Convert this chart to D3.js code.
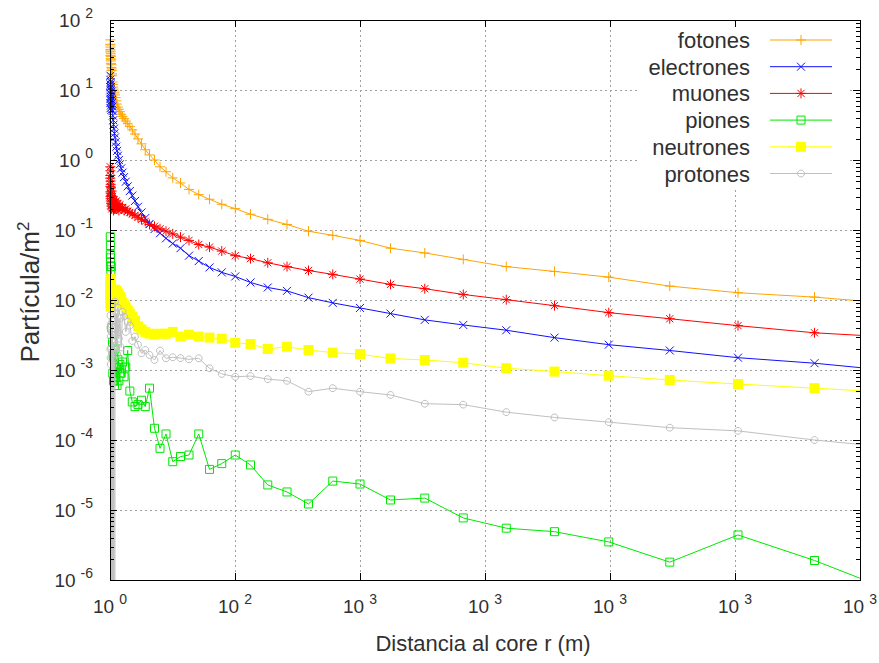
<!DOCTYPE html>
<html>
<head>
<meta charset="utf-8">
<script src="https://cdn.jsdelivr.net/npm/d3@7/dist/d3.min.js"></script>
<style>
  body { margin: 0; background: #fff; }
  svg { display: block; }
  text { font-family: "Liberation Sans", Arial, sans-serif; fill: #303030; }
</style>
</head>
<body>
<svg id="chart" width="879" height="663"></svg>
<script>
// Bin centres of the radial distance (m), 20 logarithmic bins per decade
const radius = [1, 1.12, 1.26, 1.41, 1.58, 1.78, 2, 2.24, 2.51, 2.82,
  3.16, 3.55, 3.98, 4.47, 5.01, 5.62, 6.31, 7.08, 7.94, 8.91,
  10, 11.2, 12.6, 14.1, 15.8, 17.8, 20, 22.4, 25.1, 28.2,
  31.6, 35.5, 39.8, 44.7, 50.1, 56.2, 63.1, 70.8, 79.4, 89.1,
  100, 112, 126, 141, 158, 178, 200, 224, 251, 282,
  316, 355, 398, 447, 501, 562, 631, 708, 794, 891,
  1000, 1122, 1259, 1413, 1585, 1778, 1995, 2239, 2512, 2818, 3162];

// Particle densities per m² (0 = empty bin)
const fotones = [45, 52, 38, 44, 35, 41, 31, 36, 28, 33,
  26, 30, 24, 27, 21, 23, 19, 20, 17, 16,
  13, 12, 11, 10.3, 9.7, 9.1, 8.5, 7.8, 7.0, 6.3,
  5.7, 5.3, 4.9, 4.5, 4.2, 3.9, 3.6, 3.3, 3.0, 2.7,
  2.35, 2.0, 1.7, 1.4, 1.18, 1.0, 0.8, 0.68, 0.555, 0.47,
  0.38, 0.32, 0.275, 0.233, 0.202, 0.168, 0.142, 0.12, 0.096, 0.084,
  0.071, 0.055, 0.047, 0.038, 0.030, 0.0256, 0.0212, 0.0158, 0.0127, 0.011, 0.0087];

const electrones = [9, 14, 6.5, 11, 16, 7.5, 12, 5.5, 10, 13,
  8, 6, 11, 7, 9.5, 5.2, 8.5, 6.5, 7.2, 5.8,
  5.0, 4.3, 3.7, 3.2, 2.8, 2.4, 2.1, 1.8, 1.55, 1.35,
  1.15, 1.0, 0.87, 0.76, 0.66, 0.57, 0.49, 0.42, 0.36, 0.31,
  0.26, 0.215, 0.178, 0.148, 0.122, 0.103, 0.09, 0.076, 0.064, 0.055,
  0.043, 0.036, 0.0292, 0.0248, 0.0217, 0.0178, 0.0151, 0.0135, 0.0108, 0.0091,
  0.0077, 0.0064, 0.0052, 0.0044, 0.0037, 0.0029, 0.0023, 0.0019, 0.0015, 0.00125, 0.00095];

const muones = [0.55, 0.8, 0.35, 0.6, 0.42, 0.7, 0.3, 0.5, 0.28, 0.45,
  0.33, 0.26, 0.4, 0.24, 0.31, 0.22, 0.36, 0.2, 0.28, 0.23,
  0.3, 0.21, 0.26, 0.19, 0.27, 0.2, 0.25, 0.21, 0.26, 0.2,
  0.24, 0.19, 0.23, 0.2, 0.21, 0.19, 0.2, 0.185, 0.178, 0.17,
  0.162, 0.152, 0.142, 0.133, 0.12, 0.113, 0.104, 0.096, 0.088, 0.079,
  0.071, 0.062, 0.057, 0.050, 0.043, 0.039, 0.034, 0.030, 0.0264, 0.0232,
  0.0199, 0.0167, 0.0145, 0.012, 0.0101, 0.0083, 0.0066, 0.0054, 0.0043, 0.0034, 0.0029];

const piones = [0.08, 0, 0.045, 0, 0.06, 0.035, 0, 0.04, 0, 0.03,
  0, 0.025, 0, 0, 0.03, 0, 0, 0.004, 0, 0,
  0.0025, 0.0009, 0.0016, 0.0007, 0.0015, 0.0006, 0.002, 0.0008, 0.0011, 0.0006,
  0.0014, 0.0007, 0.0012, 0.0009, 0.0013, 0.0008, 0.0011, 0.0019, 0.0005, 0.00035,
  0.0003, 0.00032, 0.00037, 0.0003, 0.00055, 0.000147, 0.000076, 0.000122, 0.000049, 0.000058,
  0.000061, 0.000122, 0.000038, 0.000046, 0.000061, 0.000044, 0.0000228, 0.0000181, 0.0000122, 0.0000259,
  0.0000235, 0.0000139, 0.0000148, 0.0000077, 0.0000055, 0.0000049, 0.0000035, 0.0000018, 0.0000044, 0.0000019, 0.00000063];

const neutrones = [0.012, 0, 0.018, 0.009, 0, 0.015, 0.011, 0, 0.02, 0.008,
  0.013, 0, 0.016, 0.01, 0.012, 0, 0.014, 0.011, 0.013, 0.0095,
  0.012, 0.0105, 0.011, 0.0125, 0.0095, 0.0115, 0.014, 0.012, 0.0135, 0.0118,
  0.0125, 0.0118, 0.011, 0.0101, 0.0092, 0.0085, 0.0078, 0.0071, 0.0064, 0.0057,
  0.0051, 0.0042, 0.0038, 0.0035, 0.0033, 0.0032, 0.0033, 0.0033, 0.0035, 0.003,
  0.0032, 0.003, 0.0029, 0.0028, 0.00245, 0.00235, 0.002, 0.00215, 0.00193, 0.00177,
  0.00169, 0.00146, 0.00139, 0.00127, 0.00106, 0.00095, 0.00083, 0.00072, 0.00063, 0.00055, 0.00047];

const protones = [0.004, 0, 0.002, 0, 0.006, 0, 0.0015, 0, 0.003, 0,
  0.0012, 0, 0.0045, 0, 0.002, 0, 0.0035, 0, 0.0018, 0,
  0.005, 0, 0.0025, 0, 0.0014, 0, 0.0095, 0.0022, 0.0065, 0.0017,
  0.0078, 0.0028, 0.0055, 0.0021, 0.0068, 0.0058, 0.0035, 0.0049, 0.0043, 0.0026,
  0.003, 0.0023, 0.00173, 0.00193, 0.00164, 0.00139, 0.00189, 0.00147, 0.00152, 0.00148,
  0.00142, 0.00147, 0.00106, 0.00088, 0.0008, 0.00082, 0.00074, 0.0007, 0.00049, 0.00055,
  0.00049, 0.00044, 0.00033, 0.00032, 0.00025, 0.00021, 0.00018, 0.00015, 0.000135, 0.0001, 0.000076];

const seriesNames = ["fotones", "electrones", "muones", "piones", "neutrones", "protones"];
const seriesValues = [fotones, electrones, muones, piones, neutrones, protones];
const seriesColors = ["#ffa500", "#1010ff", "#ff0000", "#00e800", "#ffff00", "#c0c0c0"];
const seriesMarkers = ["plus", "cross", "star", "square", "filledSquare", "circle"];

const xTickValues = [0, 500, 1000, 1500, 2000, 2500, 3000];
const xTickExponents = ["0", "2", "3", "3", "3", "3", "3"];
const yTickValues = [1e2, 1e1, 1e0, 1e-1, 1e-2, 1e-3, 1e-4, 1e-5, 1e-6];
const yTickExponents = ["2", "1", "0", "-1", "-2", "-3", "-4", "-5", "-6"];

const xTitle = "Distancia al core r (m)";
const yTitle = "Partícula/m";

const svg = d3.select("#chart");
const plot = { left: 110, right: 860, top: 20, bottom: 580 };

const x = d3.scaleLinear().domain([0, 3000]).range([plot.left, plot.right]);
const y = d3.scaleLog().domain([1e-6, 1e2]).range([plot.bottom, plot.top]);

svg.append("rect").attr("width", 879).attr("height", 663).attr("fill", "#fff");

svg.append("defs").append("clipPath").attr("id", "plotClip")
  .append("rect")
  .attr("x", plot.left).attr("y", plot.top)
  .attr("width", plot.right - plot.left).attr("height", plot.bottom - plot.top);

// Dotted grid
const grid = svg.append("g").attr("stroke", "#a0a0a0").attr("stroke-width", 1)
  .attr("stroke-dasharray", "2,3").attr("shape-rendering", "crispEdges");
xTickValues.slice(1, -1).forEach(v => {
  grid.append("line").attr("x1", x(v) + 0.5).attr("x2", x(v) + 0.5)
    .attr("y1", plot.top).attr("y2", plot.bottom);
});
yTickValues.slice(1, -1).forEach(v => {
  grid.append("line").attr("y1", y(v) + 0.5).attr("y2", y(v) + 0.5)
    .attr("x1", plot.left).attr("x2", plot.right);
});

// Legend background hides the grid behind the key
const keyBox = { x0: 638, x1: 848, y0: 26, y1: 187 };
svg.append("rect").attr("x", keyBox.x0).attr("y", keyBox.y0)
  .attr("width", keyBox.x1 - keyBox.x0).attr("height", keyBox.y1 - keyBox.y0)
  .attr("fill", "#fff");

function markerPath(type) {
  switch (type) {
    case "plus": return "M-5,0H5M0,-5V5";
    case "cross": return "M-4,-4L4,4M-4,4L4,-4";
    case "star": return "M-5,0H5M0,-5V5M-3.6,-3.6L3.6,3.6M-3.6,3.6L3.6,-3.6";
    case "square": return "M-4,-4H4V4H-4Z";
    case "filledSquare": return "M-5,-5H5V5H-5Z";
    case "circle": return "M-1.4,-3.3H1.4L3.3,-1.4V1.4L1.4,3.3H-1.4L-3.3,1.4V-1.4Z";
  }
}
function drawMarker(g, type, color, cx, cy) {
  const p = g.append("path").attr("d", markerPath(type))
    .attr("transform", `translate(${cx},${cy})`);
  if (type === "filledSquare") p.attr("fill", color).attr("stroke", "none");
  else p.attr("fill", "none").attr("stroke", color).attr("stroke-width", 1);
}

const yPos = v => (v > 0 ? y(v) : plot.bottom + 4000);
const line = d3.line().x(d => x(d.r)).y(d => yPos(d.v));

seriesNames.forEach((name, i) => {
  const data = radius.map((r, k) => ({ r, v: seriesValues[i][k] }));
  const g = svg.append("g").attr("class", name);
  g.append("path").datum(data)
    .attr("d", line)
    .attr("fill", "none")
    .attr("stroke", seriesColors[i])
    .attr("stroke-width", 1)
    .attr("clip-path", "url(#plotClip)");
  data.forEach(d => {
    if (d.v >= 1e-6 && d.v <= 1e2 && d.r <= 3000) {
      drawMarker(g, seriesMarkers[i], seriesColors[i], x(d.r), y(d.v));
    }
  });
});

// Border and tics drawn in front
const frame = svg.append("g").attr("stroke", "#000").attr("stroke-width", 1)
  .attr("shape-rendering", "crispEdges").attr("fill", "none");
frame.append("rect").attr("x", plot.left + 0.5).attr("y", plot.top + 0.5)
  .attr("width", plot.right - plot.left).attr("height", plot.bottom - plot.top);
const major = 7, minor = 4;
xTickValues.forEach(v => {
  const px = x(v) + 0.5;
  frame.append("line").attr("x1", px).attr("x2", px).attr("y1", plot.bottom).attr("y2", plot.bottom - major);
  frame.append("line").attr("x1", px).attr("x2", px).attr("y1", plot.top).attr("y2", plot.top + major);
});
yTickValues.forEach(v => {
  const py = y(v) + 0.5;
  frame.append("line").attr("y1", py).attr("y2", py).attr("x1", plot.left).attr("x2", plot.left + major);
  frame.append("line").attr("y1", py).attr("y2", py).attr("x1", plot.right).attr("x2", plot.right - major);
});
yTickValues.slice(1).forEach(v => {
  for (let m = 2; m <= 9; m++) {
    const py = y(v * m) + 0.5;
    frame.append("line").attr("y1", py).attr("y2", py).attr("x1", plot.left).attr("x2", plot.left + minor);
    frame.append("line").attr("y1", py).attr("y2", py).attr("x1", plot.right).attr("x2", plot.right - minor);
  }
});

// Tick labels written as powers of ten
function powerLabel(sel, exp) {
  sel.append("tspan").text("10");
  sel.append("tspan").attr("font-size", 14).attr("dx", 5).attr("dy", -9).text(exp);
}
xTickValues.forEach((v, i) => {
  const t = svg.append("text").attr("x", x(v)).attr("y", 613)
    .attr("text-anchor", "middle").attr("font-size", 19);
  powerLabel(t, xTickExponents[i]);
});
yTickValues.forEach((v, i) => {
  const t = svg.append("text").attr("x", 93).attr("y", y(v) + 7)
    .attr("text-anchor", "end").attr("font-size", 19);
  powerLabel(t, yTickExponents[i]);
});

// Axis titles
svg.append("text").attr("x", 483).attr("y", 651).attr("text-anchor", "middle")
  .attr("font-size", 22).text(xTitle);
const yt = svg.append("text").attr("transform", "translate(39,292) rotate(-90)")
  .attr("text-anchor", "middle").attr("font-size", 26);
yt.append("tspan").text(yTitle);
yt.append("tspan").attr("font-size", 17).attr("dy", -10).text("2");

// Key
const key = svg.append("g");
seriesNames.forEach((name, i) => {
  const ky = 40 + i * 26.7;
  key.append("text").attr("x", 750).attr("y", ky + 8).attr("text-anchor", "end")
    .attr("font-size", 22).text(name);
  key.append("line").attr("x1", 770).attr("x2", 832).attr("y1", ky).attr("y2", ky)
    .attr("stroke", seriesColors[i]).attr("stroke-width", 1);
  drawMarker(key, seriesMarkers[i], seriesColors[i], 801, ky);
});
</script>
</body>
</html>
